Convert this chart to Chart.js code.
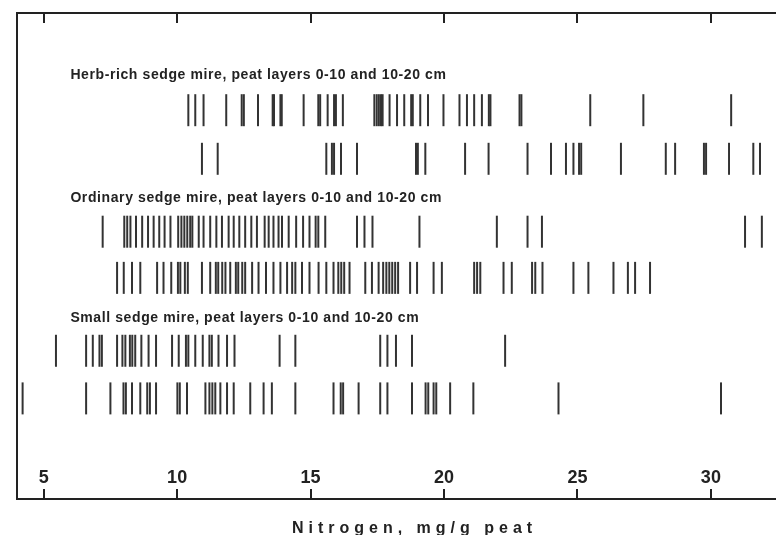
<!DOCTYPE html>
<html>
<head>
<meta charset="utf-8">
<title>Nitrogen in peat</title>
<script src="https://cdn.jsdelivr.net/npm/chart.js@4"></script>
<style>
    html, body { margin: 0; padding: 0; background: #fff; overflow: hidden; }
    #wrap { width: 776px; height: 535px; position: relative; }
    #wrap canvas { display: block; }
</style>
</head>
<body>
<div id="wrap"><canvas id="nitrogenChart"></canvas></div>
<script>
// nitrogen values, mg/g peat, one array per row
const herbRich0_10 = [10.42, 10.68, 10.99, 11.84, 12.42, 12.50, 13.03, 13.58, 13.63, 13.87, 13.92, 14.74, 15.29, 15.36, 15.64, 15.88, 15.95, 16.21, 17.39, 17.48, 17.56, 17.64, 17.70, 17.96, 18.24, 18.51, 18.77, 18.83, 19.11, 19.40, 19.98, 20.58, 20.86, 21.13, 21.42, 21.68, 21.74, 22.83, 22.90, 25.48, 27.47, 30.76];
const herbRich10_20 = [10.93, 11.52, 15.59, 15.80, 15.88, 16.14, 16.74, 18.95, 19.02, 19.30, 20.79, 21.67, 23.13, 24.01, 24.57, 24.85, 25.06, 25.14, 26.63, 28.31, 28.66, 29.74, 29.82, 30.68, 31.59, 31.84];
const ordinary0_10 = [7.21, 8.02, 8.13, 8.25, 8.46, 8.69, 8.91, 9.12, 9.33, 9.53, 9.75, 10.04, 10.16, 10.27, 10.38, 10.49, 10.57, 10.81, 10.99, 11.24, 11.47, 11.68, 11.93, 12.12, 12.33, 12.55, 12.78, 12.99, 13.28, 13.43, 13.61, 13.80, 13.93, 14.18, 14.46, 14.72, 14.96, 15.19, 15.29, 15.55, 16.74, 17.02, 17.32, 19.08, 21.98, 23.13, 23.67, 31.28, 31.91];
const ordinary10_20 = [7.75, 8.00, 8.31, 8.62, 9.25, 9.49, 9.78, 10.03, 10.12, 10.29, 10.40, 10.93, 11.24, 11.45, 11.54, 11.69, 11.81, 11.99, 12.20, 12.29, 12.44, 12.55, 12.81, 13.05, 13.33, 13.61, 13.87, 14.12, 14.31, 14.43, 14.68, 14.96, 15.30, 15.59, 15.86, 16.04, 16.15, 16.26, 16.46, 17.05, 17.30, 17.55, 17.72, 17.84, 17.95, 18.06, 18.17, 18.28, 18.73, 18.99, 19.61, 19.92, 21.13, 21.24, 21.36, 22.23, 22.54, 23.30, 23.42, 23.69, 24.85, 25.41, 26.35, 26.89, 27.16, 27.72];
const small0_10 = [5.46, 6.59, 6.84, 7.09, 7.18, 7.75, 7.95, 8.06, 8.23, 8.32, 8.43, 8.66, 8.93, 9.21, 9.81, 10.06, 10.33, 10.42, 10.68, 10.96, 11.21, 11.30, 11.55, 11.87, 12.15, 13.84, 14.43, 17.61, 17.88, 18.20, 18.80, 22.29];
const small10_20 = [4.21, 6.59, 7.50, 7.99, 8.08, 8.31, 8.62, 8.88, 8.98, 9.21, 10.01, 10.10, 10.37, 11.06, 11.21, 11.32, 11.43, 11.62, 11.87, 12.12, 12.74, 13.24, 13.55, 14.43, 15.86, 16.13, 16.22, 16.80, 17.61, 17.88, 18.80, 19.31, 19.41, 19.61, 19.71, 20.23, 21.10, 24.29, 30.38];

const rows = [herbRich0_10, herbRich10_20, ordinary0_10, ordinary10_20, small0_10, small10_20];
const rowY = [2, 3, 4.5, 5.45, 6.95, 7.93];

const groupTitles = [
    'Herb-rich sedge mire, peat layers 0-10 and 10-20 cm',
    'Ordinary sedge mire, peat layers 0-10 and 10-20 cm',
    'Small sedge mire, peat layers 0-10 and 10-20 cm'
];
const groupTitleY = [1.28, 3.81, 6.28];
const groupTitleX = 6.0;

const xMin = 4;
const xMax = 32.44;
const xStep = 5;
const xAxisTitle = 'Nitrogen, mg/g peat';

document.addEventListener('DOMContentLoaded', function () {
    const ink = '#222';
    const font = '"Liberation Sans", Arial, Helvetica, sans-serif';

    // inward tick marks, group headings and the spaced-out axis caption
    const annotations = {
        id: 'annotations',
        afterDraw(chart) {
            const ctx = chart.ctx;
            const x = chart.scales.x;
            const y = chart.scales.y;
            const area = chart.chartArea;

            ctx.save();
            ctx.strokeStyle = ink;
            ctx.lineWidth = 2;
            x.ticks.forEach(t => {
                const px = Math.round(x.getPixelForValue(t.value));
                ctx.beginPath();
                ctx.moveTo(px, area.bottom);
                ctx.lineTo(px, area.bottom - 10);
                ctx.moveTo(px, area.top);
                ctx.lineTo(px, area.top + 10);
                ctx.stroke();
            });

            ctx.fillStyle = ink;
            ctx.font = 'bold 14px ' + font;
            ctx.letterSpacing = '0.6px';
            ctx.textAlign = 'left';
            ctx.textBaseline = 'middle';
            groupTitles.forEach((text, i) => {
                ctx.fillText(text, x.getPixelForValue(groupTitleX), y.getPixelForValue(groupTitleY[i]));
            });

            ctx.font = 'bold 16px ' + font;
            ctx.letterSpacing = '5px';
            ctx.textBaseline = 'alphabetic';
            ctx.fillText(xAxisTitle, x.getPixelForValue(14.3), chart.height - 2);
            ctx.restore();
        }
    };

    const datasets = rows.map((values, i) => ({
        label: 'row ' + (i + 1),
        data: values.map(v => ({ x: v, y: rowY[i] })),
        pointStyle: 'line',
        rotation: 90,
        radius: 16,
        hoverRadius: 16,
        borderWidth: 2,
        hoverBorderWidth: 2,
        borderColor: '#333',
        backgroundColor: '#333'
    }));

    new Chart(document.getElementById('nitrogenChart'), {
        type: 'scatter',
        data: { datasets },
        options: {
            responsive: true,
            maintainAspectRatio: false,
            animation: false,
            layout: {
                autoPadding: false,
                padding: { left: 17, top: 13, right: 0, bottom: 16 }
            },
            plugins: {
                legend: { display: false },
                tooltip: { enabled: false }
            },
            scales: {
                x: {
                    type: 'linear',
                    position: 'bottom',
                    min: xMin,
                    max: xMax,
                    ticks: {
                        stepSize: xStep,
                        includeBounds: false,
                        mirror: true,
                        padding: 10,
                        maxRotation: 0,
                        autoSkip: false,
                        color: ink,
                        font: { family: font, size: 18, weight: 'bold' }
                    },
                    grid: { display: false, drawTicks: false },
                    border: { display: true, width: 2, color: ink }
                },
                x2: {
                    type: 'linear',
                    position: 'top',
                    min: xMin,
                    max: xMax,
                    ticks: { display: false },
                    grid: { display: false, drawTicks: false },
                    border: { display: true, width: 2, color: ink }
                },
                y: {
                    type: 'linear',
                    reverse: true,
                    min: 0,
                    max: 10,
                    ticks: { display: false },
                    grid: { display: false, drawTicks: false },
                    border: { display: true, width: 2, color: ink }
                }
            }
        },
        plugins: [annotations]
    });
});
</script>
</body>
</html>
